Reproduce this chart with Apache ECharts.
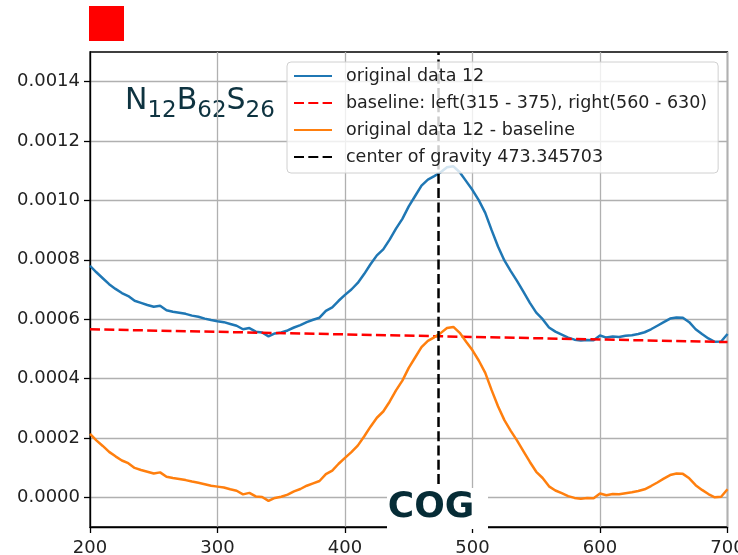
<!DOCTYPE html>
<html>
<head>
<meta charset="utf-8">
<title>center of gravity</title>
<script src="https://cdn.jsdelivr.net/npm/echarts@6/dist/echarts.min.js"></script>
<style>
  html, body { margin: 0; padding: 0; background: #fff; }
  #chart { width: 738px; height: 555px; }
</style>
</head>
<body>
<div id="chart"></div>
<script>
// wavelength samples (every 5)
const wavelength = [
  200, 205, 210, 215, 220, 225, 230, 235, 240, 245,
  250, 255, 260, 265, 270, 275, 280, 285, 290, 295,
  300, 305, 310, 315, 320, 325, 330, 335, 340, 345,
  350, 355, 360, 365, 370, 375, 380, 385, 390, 395,
  400, 405, 410, 415, 420, 425, 430, 435, 440, 445,
  450, 455, 460, 465, 470, 475, 480, 485, 490, 495,
  500, 505, 510, 515, 520, 525, 530, 535, 540, 545,
  550, 555, 560, 565, 570, 575, 580, 585, 590, 595,
  600, 605, 610, 615, 620, 625, 630, 635, 640, 645,
  650, 655, 660, 665, 670, 675, 680, 685, 690, 695,
  700
];
// original data 12
const originalData = [
  7.80e-4, 7.58e-4, 7.38e-4, 7.18e-4, 7.02e-4, 6.88e-4, 6.78e-4, 6.62e-4, 6.55e-4, 6.48e-4,
  6.42e-4, 6.45e-4, 6.30e-4, 6.25e-4, 6.22e-4, 6.18e-4, 6.12e-4, 6.08e-4, 6.02e-4, 5.97e-4,
  5.93e-4, 5.90e-4, 5.84e-4, 5.78e-4, 5.66e-4, 5.70e-4, 5.58e-4, 5.55e-4, 5.42e-4, 5.52e-4,
  5.55e-4, 5.62e-4, 5.72e-4, 5.80e-4, 5.90e-4, 5.98e-4, 6.05e-4, 6.28e-4, 6.40e-4, 6.62e-4,
  6.82e-4, 7.00e-4, 7.22e-4, 7.52e-4, 7.85e-4, 8.15e-4, 8.35e-4, 8.68e-4, 9.05e-4, 9.38e-4,
  9.80e-4, 10.15e-4, 10.50e-4, 10.70e-4, 10.82e-4, 10.95e-4, 11.12e-4, 11.15e-4, 10.95e-4, 10.65e-4,
  10.35e-4, 10.00e-4, 9.58e-4, 9.00e-4, 8.45e-4, 7.98e-4, 7.62e-4, 7.28e-4, 6.92e-4, 6.55e-4,
  6.22e-4, 6.00e-4, 5.72e-4, 5.58e-4, 5.48e-4, 5.38e-4, 5.31e-4, 5.28e-4, 5.30e-4, 5.29e-4,
  5.45e-4, 5.38e-4, 5.42e-4, 5.40e-4, 5.44e-4, 5.46e-4, 5.50e-4, 5.56e-4, 5.66e-4, 5.78e-4,
  5.90e-4, 6.02e-4, 6.06e-4, 6.05e-4, 5.90e-4, 5.66e-4, 5.50e-4, 5.35e-4, 5.24e-4, 5.25e-4,
  5.50e-4
];
// original data 12 - baseline
const correctedData = [
  2.14e-4, 1.92e-4, 1.73e-4, 1.53e-4, 1.38e-4, 1.24e-4, 1.15e-4, 0.99e-4, 0.92e-4, 0.86e-4,
  0.80e-4, 0.84e-4, 0.69e-4, 0.65e-4, 0.62e-4, 0.58e-4, 0.53e-4, 0.49e-4, 0.44e-4, 0.39e-4,
  0.36e-4, 0.33e-4, 0.27e-4, 0.22e-4, 0.10e-4, 0.15e-4, 0.03e-4, 0.01e-4, -0.12e-4, -0.02e-4,
  0.02e-4, 0.09e-4, 0.20e-4, 0.28e-4, 0.39e-4, 0.47e-4, 0.55e-4, 0.78e-4, 0.90e-4, 1.13e-4,
  1.33e-4, 1.52e-4, 1.74e-4, 2.05e-4, 2.38e-4, 2.68e-4, 2.89e-4, 3.22e-4, 3.60e-4, 3.93e-4,
  4.36e-4, 4.71e-4, 5.06e-4, 5.27e-4, 5.39e-4, 5.53e-4, 5.70e-4, 5.74e-4, 5.54e-4, 5.24e-4,
  4.95e-4, 4.60e-4, 4.19e-4, 3.61e-4, 3.07e-4, 2.60e-4, 2.24e-4, 1.91e-4, 1.55e-4, 1.19e-4,
  0.86e-4, 0.65e-4, 0.37e-4, 0.23e-4, 0.14e-4, 0.04e-4, -0.02e-4, -0.05e-4, -0.02e-4, -0.03e-4,
  0.13e-4, 0.07e-4, 0.11e-4, 0.10e-4, 0.14e-4, 0.17e-4, 0.21e-4, 0.27e-4, 0.38e-4, 0.50e-4,
  0.63e-4, 0.75e-4, 0.80e-4, 0.79e-4, 0.64e-4, 0.41e-4, 0.25e-4, 0.11e-4, 0.00e-4, 0.02e-4,
  0.27e-4
];
// straight baseline fitted on left(315 - 375), right(560 - 630)
const baselineX = [200, 700];
const baselineY = [5.66e-4, 5.23e-4];
const cog = 473.345703;
const yMin = -0.0001;
const yMax = 0.0015;
const yTicks = [0, 0.0002, 0.0004, 0.0006, 0.0008, 0.0010, 0.0012, 0.0014];
const legendNames = [
  "original data 12",
  "baseline: left(315 - 375), right(560 - 630)",
  "original data 12 - baseline",
  "center of gravity 473.345703"
];

const font = "DejaVu Sans";
const pair = (xs, ys) => xs.map((x, i) => [x, ys[i]]);
const axisColor = "#000";
const gridLine = { show: true, lineStyle: { color: "#b0b0b0", width: 1.3 } };
const ink = "#0e3340";

// N12B62S26, drawn piece by piece so the numbers sit as subscripts
const formula = [
  { t: "N", x: 125, sub: false },
  { t: "12", x: 147.4, sub: true },
  { t: "B", x: 176.7, sub: false },
  { t: "62", x: 197.3, sub: true },
  { t: "S", x: 226.6, sub: false },
  { t: "26", x: 245.6, sub: true }
];

const chart = echarts.init(document.getElementById("chart"));
chart.setOption({
  animation: false,
  grid: {
    left: 90,
    right: 10.5,
    top: 52,
    bottom: 28,
    outerBoundsMode: "none",
    show: true,
    borderColor: axisColor,
    borderWidth: 1.3
  },
  xAxis: {
    type: "value",
    min: 200,
    max: 700,
    interval: 100,
    axisLine: { onZero: false, lineStyle: { color: axisColor, width: 1.3 } },
    axisTick: { show: true, length: 6, lineStyle: { color: axisColor, width: 1.3 } },
    axisLabel: { color: "#222", fontFamily: font, fontSize: 18, margin: 12 },
    splitLine: gridLine
  },
  yAxis: {
    type: "value",
    min: yMin,
    max: yMax,
    splitNumber: 8,
    axisLine: { show: true, lineStyle: { color: axisColor, width: 1.3 } },
    axisTick: {
      show: true,
      length: 6,
      customValues: yTicks,
      lineStyle: { color: axisColor, width: 1.3 }
    },
    axisLabel: {
      color: "#222",
      fontFamily: font,
      fontSize: 18,
      margin: 10,
      customValues: yTicks,
      formatter: (v) => v.toFixed(4)
    },
    splitLine: gridLine
  },
  legend: {
    orient: "vertical",
    left: 287,
    top: 62,
    itemWidth: 38,
    itemHeight: 14,
    itemGap: 9,
    padding: [5, 11, 7, 6],
    backgroundColor: "rgba(255,255,255,0.8)",
    borderColor: "#d0d0d0",
    borderWidth: 1,
    borderRadius: 4,
    itemStyle: { opacity: 0 },
    textStyle: { fontFamily: font, fontSize: 17.5, color: "#222", lineHeight: 18, padding: [0, 0, 0, 9] },
    data: legendNames
  },
  series: [
    {
      name: legendNames[0],
      type: "line",
      symbol: "none",
      data: pair(wavelength, originalData),
      itemStyle: { color: "#1f77b4" },
      lineStyle: { color: "#1f77b4", width: 2.5 }
    },
    {
      name: legendNames[1],
      type: "line",
      symbol: "none",
      data: pair(baselineX, baselineY),
      itemStyle: { color: "#ff0000" },
      lineStyle: { color: "#ff0000", width: 2.5, type: [10, 4.3] }
    },
    {
      name: legendNames[2],
      type: "line",
      symbol: "none",
      data: pair(wavelength, correctedData),
      itemStyle: { color: "#ff7f0e" },
      lineStyle: { color: "#ff7f0e", width: 2.5 }
    },
    {
      name: legendNames[3],
      type: "line",
      symbol: "none",
      data: [[cog, yMin], [cog, yMax]],
      itemStyle: { color: "#000" },
      lineStyle: { color: "#000", width: 2.5, type: [10, 4.3] }
    }
  ],
  graphic: [
    {
      type: "rect",
      shape: { x: 89, y: 6, width: 35, height: 35 },
      style: { fill: "#ff0000" }
    },
    {
      type: "group",
      z: 50,
      children: formula.map((p) => ({
        type: "text",
        x: p.x,
        y: p.sub ? 110.6 : 101.5,
        style: {
          text: p.t,
          fontFamily: font,
          fontSize: p.sub ? 23 : 30,
          fill: ink,
          align: "left",
          verticalAlign: "middle"
        }
      }))
    },
    {
      type: "group",
      z: 100,
      children: [
        {
          type: "rect",
          shape: { x: 387, y: 488, width: 101, height: 41 },
          style: { fill: "#fff" },
          z: 100
        },
        {
          type: "text",
          x: 431,
          y: 508,
          z: 101,
          style: {
            text: "COG",
            fontFamily: font,
            fontWeight: "bold",
            fontSize: 36,
            fill: "#062c36",
            align: "center",
            verticalAlign: "middle"
          }
        }
      ]
    }
  ]
});
</script>
</body>
</html>
